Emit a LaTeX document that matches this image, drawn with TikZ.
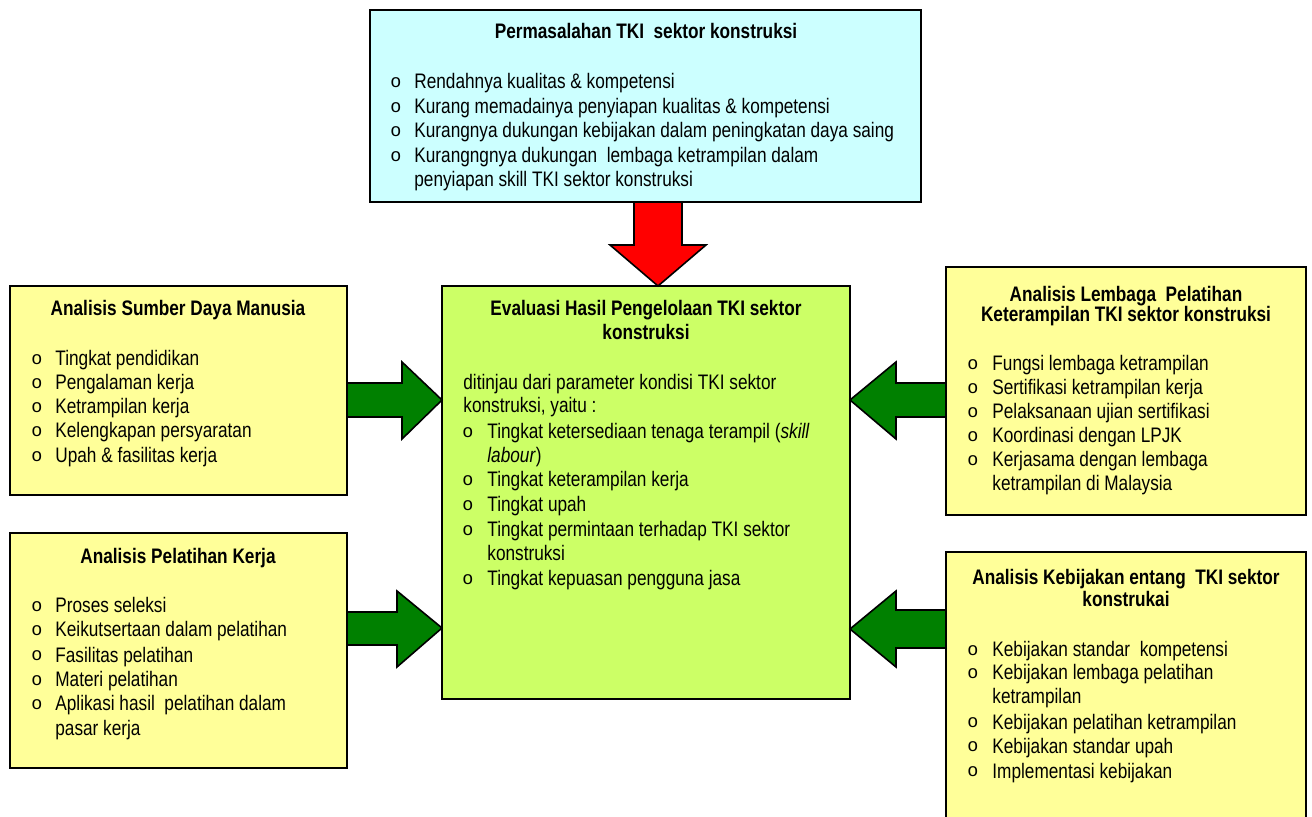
\documentclass[tikz,border=0pt]{standalone}
\usepackage{fontspec}
\setmainfont{Liberation Sans}[FakeStretch=0.82]
\newfontfamily\bulletfont{Liberation Mono}
\definecolor{cyanbox}{HTML}{CCFFFF}
\definecolor{greenbox}{HTML}{CCFF66}
\definecolor{yellowbox}{HTML}{FFFF99}
\definecolor{darkarrow}{HTML}{008000}
\definecolor{redarrow}{HTML}{FF0000}
\tikzset{
  box/.style={draw=black, line width=1pt, rectangle, anchor=north west, inner sep=0pt, outer sep=0pt},
  txt/.style={inner sep=0pt, anchor=base west, font=\fontsize{10.5}{12.5}\selectfont},
  ttl/.style={inner sep=0pt, anchor=base, font=\fontsize{10.5}{12.5}\selectfont\bfseries},
  bul/.style={inner sep=0pt, anchor=base, yshift=0.6pt, font=\fontsize{9.2}{11}\selectfont\bulletfont},
  garrow/.style={draw=black, line width=0.8pt, fill=darkarrow, line join=miter},
  rarrow/.style={draw=black, line width=0.8pt, fill=redarrow, line join=miter}
}
\newcommand\txtline[4]{\node[txt] (#1) at (#2,#3) {#4};}
\newcommand\bulnode[3]{\node[bul] (#1) at (#2,#3) {o};}
\begin{document}
\begin{tikzpicture}[x=0.5pt,y=-0.5pt]
\clip (0,0) rectangle (1312,817);
\fill[white] (0,0) rectangle (1312,817);

% ---------- boxes ----------
\node[box, fill=cyanbox, minimum width=275.5pt, minimum height=96pt] (top) at (370,10) {};
\node[box, fill=greenbox, minimum width=204pt, minimum height=206.5pt] (C) at (442,286) {};
\node[box, fill=yellowbox, minimum width=168.5pt, minimum height=104.5pt] (L1) at (10,286) {};
\node[box, fill=yellowbox, minimum width=168.5pt, minimum height=117.5pt] (L2) at (10,533) {};
\node[box, fill=yellowbox, minimum width=180pt, minimum height=124pt] (R1) at (946,267) {};
\node[box, fill=yellowbox, minimum width=180pt, minimum height=140pt] (R2) at (946,552) {};

% ---------- arrows ----------
\draw[rarrow] (top.south -| 634,0) -- (634,245) -- (610,245) -- (C.north -| 658,0)
  -- (706,245) -- (682,245) -- (top.south -| 682,0) -- cycle;
\draw[garrow] (L1.east |- 0,383) -- (402,383) -- (402,362) -- (C.west |- 0,400)
  -- (402,439) -- (402,417) -- (L1.east |- 0,417) -- cycle;
\draw[garrow] (L2.east |- 0,612) -- (397,612) -- (397,591) -- (C.west |- 0,628)
  -- (397,667) -- (397,645) -- (L2.east |- 0,645) -- cycle;
\draw[garrow] (R1.west |- 0,383) -- (896,383) -- (896,362) -- (C.east |- 0,400)
  -- (896,439) -- (896,417) -- (R1.west |- 0,417) -- cycle;
\draw[garrow] (R2.west |- 0,610) -- (896,610) -- (896,591) -- (C.east |- 0,629)
  -- (896,667) -- (896,648) -- (R2.west |- 0,648) -- cycle;

% ---------- top box text ----------
\node[ttl] (topT) at (646,39) {Permasalahan TKI~ sektor konstruksi};
\bulnode{tb1}{396}{89}  \txtline{t1}{414}{89}{Rendahnya kualitas \& kompetensi}
\bulnode{tb2}{396}{114} \txtline{t2}{414}{114}{Kurang memadainya penyiapan kualitas \& kompetensi}
\bulnode{tb3}{396}{138} \txtline{t3}{414}{138}{Kurangnya dukungan kebijakan dalam peningkatan daya saing}
\bulnode{tb4}{396}{163} \txtline{t4}{414}{163}{Kurangngnya dukungan~ lembaga ketrampilan dalam}
\txtline{t5}{414}{187}{penyiapan skill TKI sektor konstruksi}

% ---------- center box text ----------
\node[ttl] (cT1) at (646,316) {Evaluasi Hasil Pengelolaan TKI sektor};
\node[ttl] (cT2) at (646,340) {konstruksi};
\txtline{cp1}{463}{390}{ditinjau dari parameter kondisi TKI sektor}
\txtline{cp2}{463}{413}{konstruksi, yaitu :}
\bulnode{cb1}{468}{439} \txtline{c1}{487}{439}{Tingkat ketersediaan tenaga terampil (\textit{skill}}
\txtline{c1b}{487}{463}{\textit{labour})}
\bulnode{cb2}{468}{487} \txtline{c2}{487}{487}{Tingkat keterampilan kerja}
\bulnode{cb3}{468}{512} \txtline{c3}{487}{512}{Tingkat upah}
\bulnode{cb4}{468}{537} \txtline{c4}{487}{537}{Tingkat permintaan terhadap TKI sektor}
\txtline{c4b}{487}{561}{konstruksi}
\bulnode{cb5}{468}{586} \txtline{c5}{487}{586}{Tingkat kepuasan pengguna jasa}

% ---------- left top ----------
\node[ttl] (L1T) at (178,316) {Analisis Sumber Daya Manusia};
\bulnode{lb1}{37}{366} \txtline{l1}{55}{366}{Tingkat pendidikan}
\bulnode{lb2}{37}{390} \txtline{l2}{55}{390}{Pengalaman kerja}
\bulnode{lb3}{37}{414} \txtline{l3}{55}{414}{Ketrampilan kerja}
\bulnode{lb4}{37}{438} \txtline{l4}{55}{438}{Kelengkapan persyaratan}
\bulnode{lb5}{37}{463} \txtline{l5}{55}{463}{Upah \& fasilitas kerja}

% ---------- left bottom ----------
\node[ttl] (L2T) at (178,564) {Analisis Pelatihan Kerja};
\bulnode{mb1}{37}{613} \txtline{m1}{55}{613}{Proses seleksi}
\bulnode{mb2}{37}{637} \txtline{m2}{55}{637}{Keikutsertaan dalam pelatihan}
\bulnode{mb3}{37}{662} \txtline{m3}{55}{662}{Fasilitas pelatihan}
\bulnode{mb4}{37}{687} \txtline{m4}{55}{687}{Materi pelatihan}
\bulnode{mb5}{37}{711} \txtline{m5}{55}{711}{Aplikasi hasil~ pelatihan dalam}
\txtline{m5b}{55}{735}{pasar kerja}

% ---------- right top ----------
\node[ttl] (R1T1) at (1126,302) {Analisis Lembaga~ Pelatihan};
\node[ttl] (R1T2) at (1126,322) {Keterampilan TKI sektor konstruksi};
\bulnode{rb1}{973}{371} \txtline{r1}{992}{371}{Fungsi lembaga ketrampilan}
\bulnode{rb2}{973}{395} \txtline{r2}{992}{395}{Sertifikasi ketrampilan kerja}
\bulnode{rb3}{973}{419} \txtline{r3}{992}{419}{Pelaksanaan ujian sertifikasi}
\bulnode{rb4}{973}{443} \txtline{r4}{992}{443}{Koordinasi dengan LPJK}
\bulnode{rb5}{973}{467} \txtline{r5}{992}{467}{Kerjasama dengan lembaga}
\txtline{r5b}{992}{491}{ketrampilan di Malaysia}

% ---------- right bottom ----------
\node[ttl] (R2T1) at (1126,585) {Analisis Kebijakan entang~ TKI sektor};
\node[ttl] (R2T2) at (1126,607) {konstrukai};
\bulnode{sb1}{973}{657} \txtline{s1}{992}{657}{Kebijakan standar~ kompetensi}
\bulnode{sb2}{973}{680} \txtline{s2}{992}{680}{Kebijakan lembaga pelatihan}
\txtline{s2b}{992}{704}{ketrampilan}
\bulnode{sb3}{973}{729} \txtline{s3}{992}{729}{Kebijakan pelatihan ketrampilan}
\bulnode{sb4}{973}{753} \txtline{s4}{992}{753}{Kebijakan standar upah}
\bulnode{sb5}{973}{778} \txtline{s5}{992}{778}{Implementasi kebijakan}
\end{tikzpicture}
\end{document}
